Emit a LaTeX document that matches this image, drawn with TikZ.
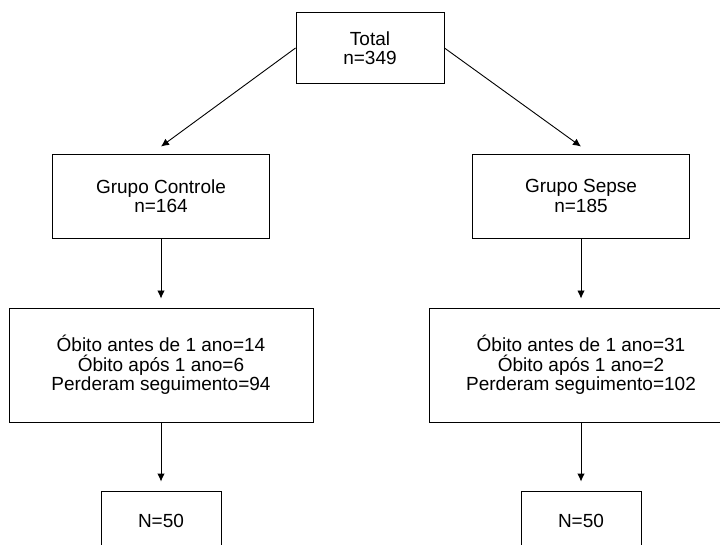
\documentclass[tikz,border=0pt]{standalone}
\usepackage{fontspec}
\setmainfont{Liberation Sans}
\usetikzlibrary{arrows.meta, positioning}
\tikzset{
    box/.style={
        rectangle,
        draw=black,
        line width=0.9pt,
        align=center,
        inner sep=0pt,
        font=\fontsize{19}{19.5}\selectfont,
    },
    groupbox/.style={
        box,
        minimum width=217pt,
        minimum height=84pt,
    },
    lossbox/.style={
        box,
        minimum width=304pt,
        minimum height=114pt,
    },
    endbox/.style={
        box,
        minimum width=120pt,
        minimum height=60pt,
    },
    flow/.style={
        -{Latex[length=8pt,width=7.5pt]},
        line width=0.9pt,
        draw=black,
    },
}

\begin{document}
\begin{tikzpicture}[x=1pt, y=1pt, node distance=2cm, on grid]
      \useasboundingbox (0,0) rectangle (720,544);

      \node[box, minimum width=148pt, minimum height=71pt] (total) at (370,496) {Total\\n=349};

      \node[groupbox, below left=148pt and 209pt of total] (ctrl) {Grupo Controle\\n=164};

      \node[groupbox, below right=148pt and 211pt of total] (sepse) {Grupo Sepse\\n=185};

      \node[lossbox, below=169pt of ctrl] (ctrlloss) {Óbito antes de 1 ano=14\\Óbito após 1 ano=6\\Perderam seguimento=94};

      \node[lossbox, below=169pt of sepse] (sepseloss) {Óbito antes de 1 ano=31\\Óbito após 1 ano=2\\Perderam seguimento=102};

      \node[endbox, below=156pt of ctrlloss] (ctrlend) {N=50};

      \node[endbox, below=156pt of sepseloss] (sepseend) {N=50};

      \draw[flow] (total.west) -- ([yshift=7pt]ctrl.north);
      \draw[flow] (total.east) -- ([yshift=7pt]sepse.north);
      \draw[flow, shorten >=9pt] (ctrl) -- (ctrlloss);
      \draw[flow, shorten >=9pt] (sepse) -- (sepseloss);
      \draw[flow, shorten >=9pt] (ctrlloss) -- (ctrlend);
      \draw[flow, shorten >=9pt] (sepseloss) -- (sepseend);
    \end{tikzpicture}
\end{document}
